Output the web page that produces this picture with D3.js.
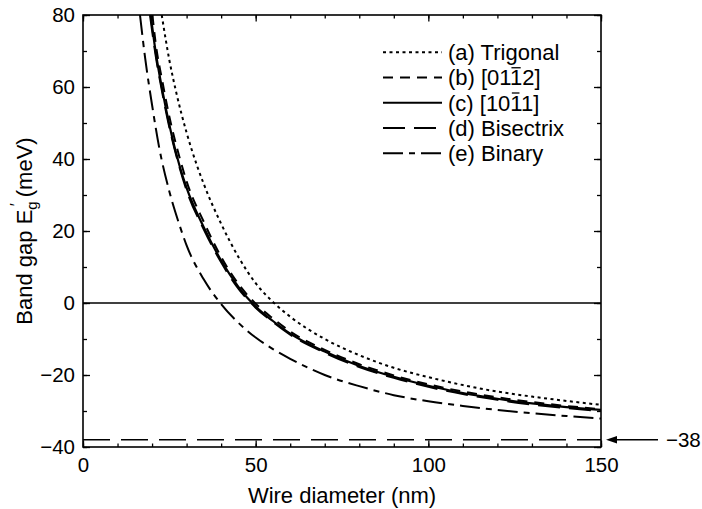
<!DOCTYPE html>
<html>
<head>
<meta charset="utf-8">
<script src="https://cdn.jsdelivr.net/npm/d3@7"></script>
<style>
  body { margin: 0; background: #fff; }
  text { font-family: "Liberation Sans", Arial, sans-serif; fill: #000; }
</style>
</head>
<body>
<div id="viz"></div>
<script>
// band gap vs wire diameter, five orientations

const seriesNames = ['(a) Trigonal', '(b) [0112]', '(c) [1011]', '(d) Bisectrix', '(e) Binary'];
const seriesDash = ['3,3.5', '10,7', null, '22,9', '20,6,6,6'];
const overlineChar = [null, 7, 7, null, null];

const trigonalD = [22.8, 25, 27, 30, 33, 35, 40, 45, 50, 55, 60, 70, 80, 90, 100, 110, 120, 130, 140, 150];
const trigonalE = [80, 67.5, 58.5, 47.3, 38.2, 33, 22, 12.8, 5.5, 0.3, -3.8, -10, -14.5, -18, -20.6, -22.8, -24.6, -26, -27.2, -28.3];

const dir0112D = [20.1, 21, 23, 25, 28, 30, 35, 40, 45, 50, 55, 60, 70, 80, 90, 100, 110, 120, 130, 140, 150];
const dir0112E = [80, 72.5, 61.5, 51.8, 40.3, 33.8, 22.5, 12.8, 5.3, -0.2, -4.3, -7.9, -13, -17, -20.1, -22.6, -24.6, -26.2, -27.5, -28.6, -29.5];

const dir1011D = [19.6, 21, 23, 25, 28, 30, 35, 40, 45, 50, 55, 60, 70, 80, 90, 100, 110, 120, 130, 140, 150];
const dir1011E = [80, 70, 59, 49.5, 38, 32, 21, 11.8, 4.5, -1, -5, -8.5, -13.5, -17.5, -20.5, -23, -25, -26.6, -27.9, -28.9, -29.7];

const bisectrixD = [19.4, 21, 23, 25, 28, 30, 35, 40, 45, 50, 55, 60, 70, 80, 90, 100, 110, 120, 130, 140, 150];
const bisectrixE = [80, 69, 58.2, 48.8, 37.5, 31.3, 20.4, 11.3, 4, -1.3, -5.3, -8.8, -13.8, -17.8, -20.8, -23.3, -25.3, -26.9, -28.2, -29.2, -30];

const binaryD = [16.5, 18, 20, 22, 25, 28, 30, 35, 40, 45, 50, 55, 60, 70, 80, 90, 100, 110, 120, 130, 140, 150];
const binaryE = [80, 68, 55, 43.5, 31, 21.5, 16, 6.5, -0.3, -5.5, -9.6, -12.8, -15.5, -20, -23.1, -25.6, -27.3, -28.6, -29.7, -30.6, -31.4, -32.1];

const bulkLimit = -38;

const xTicksMajor = [0, 50, 100, 150];
const yTicksMajor = [-40, -20, 0, 20, 40, 60, 80];

function drawChart() {
    var dimensions = {
        width: 702,
        height: 509,
        margins: { top: 15, right: 101, bottom: 62, left: 83 }
    };
    dimensions.boundedWidth = dimensions.width - dimensions.margins.left - dimensions.margins.right;
    dimensions.boundedHeight = dimensions.height - dimensions.margins.top - dimensions.margins.bottom;

    const viz = d3.select('#viz').append('svg')
        .attr('width', dimensions.width)
        .attr('height', dimensions.height);

    const bounds = viz.append('g')
        .attr('transform', `translate(${dimensions.margins.left},${dimensions.margins.top})`);

    const xScale = d3.scaleLinear().domain([0, 150]).range([0, dimensions.boundedWidth]);
    const yScale = d3.scaleLinear().domain([-40, 80]).range([dimensions.boundedHeight, 0]);

    const series = [
        [trigonalD, trigonalE],
        [dir0112D, dir0112E],
        [dir1011D, dir1011E],
        [bisectrixD, bisectrixE],
        [binaryD, binaryE]
    ].map(([ds, es]) => ds.map((d, i) => [d, es[i]]));

    bounds.append('clipPath').attr('id', 'plotclip')
        .append('rect')
        .attr('width', dimensions.boundedWidth)
        .attr('height', dimensions.boundedHeight);

    // ticks: minor every 10, major with labels, all pointing inward
    const minorX = d3.range(0, 151, 10);
    const minorY = d3.range(-40, 81, 10);

    function ticksOnly(axis, g) {
        g.call(axis).call(s => s.select('.domain').remove());
        g.selectAll('line').attr('stroke', '#000').attr('stroke-width', 1.3);
    }

    ticksOnly(d3.axisBottom(xScale).tickValues(minorX).tickSize(-3.5).tickFormat(''),
        bounds.append('g').attr('transform', `translate(0,${dimensions.boundedHeight})`));
    ticksOnly(d3.axisTop(xScale).tickValues(minorX).tickSize(-3.5).tickFormat(''), bounds.append('g'));
    ticksOnly(d3.axisLeft(yScale).tickValues(minorY).tickSize(-4).tickFormat(''), bounds.append('g'));
    ticksOnly(d3.axisRight(yScale).tickValues(minorY).tickSize(-4).tickFormat(''),
        bounds.append('g').attr('transform', `translate(${dimensions.boundedWidth},0)`));

    const xAxis = bounds.append('g').attr('transform', `translate(0,${dimensions.boundedHeight})`);
    ticksOnly(d3.axisBottom(xScale).tickValues(xTicksMajor).tickSize(-6.5).tickPadding(10), xAxis);
    ticksOnly(d3.axisTop(xScale).tickValues(xTicksMajor).tickSize(-6.5).tickFormat(''), bounds.append('g'));
    const yAxis = bounds.append('g');
    ticksOnly(d3.axisLeft(yScale).tickValues(yTicksMajor).tickSize(-7).tickPadding(8), yAxis);
    ticksOnly(d3.axisRight(yScale).tickValues(yTicksMajor).tickSize(-7).tickFormat(''),
        bounds.append('g').attr('transform', `translate(${dimensions.boundedWidth},0)`));

    bounds.selectAll('.tick text')
        .style('font-size', '20.5px')
        .style('font-family', '"Liberation Sans", Arial, sans-serif')
        .attr('fill', '#000');

    // zero line
    bounds.append('line')
        .attr('x1', 0).attr('x2', dimensions.boundedWidth)
        .attr('y1', yScale(0)).attr('y2', yScale(0))
        .attr('stroke', '#000').attr('stroke-width', 1.6);

    // bulk limit
    bounds.append('line')
        .attr('x1', 0).attr('x2', dimensions.boundedWidth)
        .attr('y1', yScale(bulkLimit)).attr('y2', yScale(bulkLimit))
        .attr('stroke', '#000').attr('stroke-width', 1.6)
        .attr('stroke-dasharray', '27,11');

    const line = d3.line()
        .x(d => xScale(d[0]))
        .y(d => yScale(d[1]))
        .curve(d3.curveMonotoneX);

    bounds.append('g').attr('clip-path', 'url(#plotclip)')
        .selectAll('path')
        .data(series)
        .join('path')
            .attr('d', line)
            .attr('fill', 'none')
            .attr('stroke', '#000')
            .attr('stroke-width', (d, i) => i === 2 ? 2.2 : 2)
            .attr('stroke-dasharray', (d, i) => seriesDash[i]);

    // frame
    bounds.append('rect')
        .attr('width', dimensions.boundedWidth)
        .attr('height', dimensions.boundedHeight)
        .attr('fill', 'none')
        .attr('stroke', '#000')
        .attr('stroke-width', 1.6);

    // legend
    const legend = bounds.append('g').attr('transform', 'translate(300,37.3)');
    seriesNames.forEach((name, i) => {
        const row = legend.append('g').attr('transform', `translate(0,${i * 25.25})`);
        row.append('line')
            .attr('x1', 0).attr('x2', 59)
            .attr('stroke', '#000').attr('stroke-width', 2)
            .attr('stroke-dasharray', seriesDash[i]);
        const t = row.append('text')
            .attr('x', 65).attr('dy', '0.35em')
            .style('font-size', '22px')
            .text(name);
        if (overlineChar[i] !== null) {
            const box = t.node().getExtentOfChar(overlineChar[i]);
            row.append('line')
                .attr('x1', box.x + 1.5).attr('x2', box.x + box.width - 1.5)
                .attr('y1', box.y + 2.5).attr('y2', box.y + 2.5)
                .attr('stroke', '#000').attr('stroke-width', 1.3);
        }
    });

    // axis titles
    xAxis.append('text')
        .attr('x', dimensions.boundedWidth / 2)
        .attr('y', 56)
        .attr('text-anchor', 'middle')
        .style('font-size', '22px')
        .text('Wire diameter (nm)');

    const yLabel = viz.append('text')
        .attr('transform', `translate(32,${dimensions.margins.top + dimensions.boundedHeight / 2}) rotate(-90)`)
        .attr('text-anchor', 'middle')
        .style('font-size', '22px');
    yLabel.append('tspan').text('Band gap E');
    yLabel.append('tspan').attr('dy', 5).style('font-size', '15px').text('g');
    yLabel.append('tspan').attr('dx', -5).attr('dy', -15).style('font-size', '16px').text('\u2032');
    yLabel.append('tspan').attr('dy', 10).text(' (meV)');

    // -38 marker outside the frame
    const yArrow = yScale(bulkLimit);
    const ann = bounds.append('g');
    ann.append('line')
        .attr('x1', dimensions.boundedWidth + 14).attr('x2', dimensions.boundedWidth + 57)
        .attr('y1', yArrow).attr('y2', yArrow)
        .attr('stroke', '#000').attr('stroke-width', 1.4);
    ann.append('path')
        .attr('d', `M${dimensions.boundedWidth + 5},${yArrow} l11,-3.8 l0,7.6 Z`)
        .attr('fill', '#000');
    ann.append('text')
        .attr('x', dimensions.boundedWidth + 65)
        .attr('y', yArrow)
        .attr('dy', '0.35em')
        .style('font-size', '20.5px')
        .text(d3.format('')(bulkLimit));
}

drawChart();
</script>
</body>
</html>
